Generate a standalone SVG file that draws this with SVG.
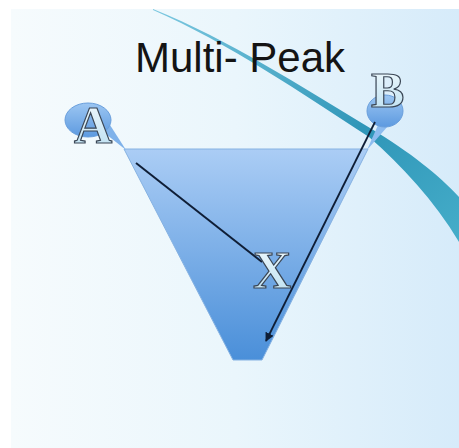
<svg xmlns="http://www.w3.org/2000/svg" width="459" height="448" viewBox="0 0 459 448">
  <defs>
    <linearGradient id="bg" x1="0" y1="0" x2="1" y2="0">
      <stop offset="0" stop-color="#f6fbfd"/>
      <stop offset="0.5" stop-color="#eaf6fc"/>
      <stop offset="1" stop-color="#d6ebfa"/>
    </linearGradient>
    <linearGradient id="funnelFill" x1="0" y1="0" x2="0" y2="1">
      <stop offset="0" stop-color="#abcdf5"/>
      <stop offset="1" stop-color="#4a8fd9"/>
    </linearGradient>
    <linearGradient id="bubbleFill" x1="0" y1="0" x2="0" y2="1">
      <stop offset="0" stop-color="#9cc6f2"/>
      <stop offset="1" stop-color="#5d9ae0"/>
    </linearGradient>
    <linearGradient id="swoosh" x1="0" y1="0" x2="1" y2="1">
      <stop offset="0" stop-color="#7cc8e0"/>
      <stop offset="0.6" stop-color="#2f96b8"/>
      <stop offset="1" stop-color="#45adc9"/>
    </linearGradient>
    <linearGradient id="letterFill" x1="0" y1="0" x2="0" y2="1">
      <stop offset="0" stop-color="#f4fbfe"/>
      <stop offset="1" stop-color="#b9def0"/>
    </linearGradient>
    <marker id="arrow" viewBox="0 0 10 10" refX="9" refY="5" markerWidth="5" markerHeight="5" orient="auto" markerUnits="strokeWidth">
      <path d="M0,0 L10,5 L0,10 Z" fill="#0f1e36"/>
    </marker>
  </defs>
  <style>
    .letter { font-family: "Liberation Serif", "Times New Roman", serif; font-weight: bold; font-size: 53px; fill: url(#letterFill); stroke: #3b4756; stroke-width: 1.2px; }
    .title { font-family: "Liberation Sans", Arial, sans-serif; font-size: 42px; fill: #141414; }
    .conn { stroke: #0f1e36; stroke-width: 2; fill: none; }
    .bubble { fill: url(#bubbleFill); stroke: #6a9fdc; stroke-width: 1; }
  </style>

  <rect x="0" y="0" width="459" height="448" fill="#ffffff"/>
  <rect x="11" y="9" width="448" height="439" fill="url(#bg)"/>

  <!-- decorative swoosh -->
  <path d="M153,9 C230,40 300,86 370,128 C410,152 440,176 459,197 L459,242 C434,200 402,166 369,137 C300,92 230,44 153,10 Z" fill="url(#swoosh)"/>

  <g id="title">
    <text class="title" x="135" y="72">Multi- Peak</text>
  </g>

  <g id="funnel">
    <path d="M124,149 L368,149 L262,360 L233,360 Z" fill="url(#funnelFill)" stroke="#86b2e2" stroke-width="1"/>
  </g>

  <g id="nodeA">
    <path d="M102,131 L126,150 L110,125 Z" fill="#7fb2ea"/>
    <ellipse class="bubble" cx="88" cy="120" rx="23" ry="17"/>
    <text class="letter" x="74" y="143">A</text>
  </g>

  <g id="nodeB">
    <path d="M378,125 L367,150 L388,126 Z" fill="#8dbcef"/>
    <ellipse class="bubble" cx="385" cy="111" rx="18" ry="16"/>
    <text class="letter" x="371" y="107" style="font-size:50px">B</text>
  </g>

  <g id="connectors">
    <line class="conn" x1="136" y1="163" x2="262" y2="262"/>
    <line class="conn" x1="375" y1="122" x2="266" y2="341" marker-end="url(#arrow)" style="stroke-width:1.8"/>
  </g>

  <g id="nodeX">
    <text class="letter" x="253" y="288">X</text>
  </g>
</svg>
